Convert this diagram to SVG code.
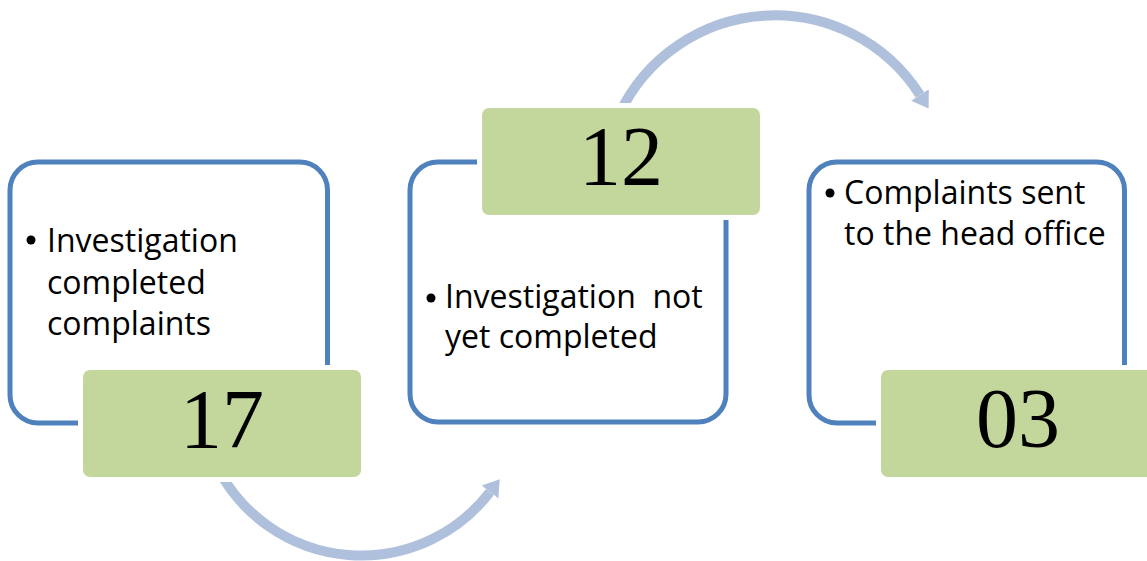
<svg xmlns="http://www.w3.org/2000/svg" width="1147" height="561" viewBox="0 0 1147 561">
<style>
.frame{fill:#ffffff;stroke:#4f81bd;stroke-width:5}
.tag{fill:#c3d69b;stroke:#ffffff;stroke-width:10;paint-order:stroke}
.lbl{font-family:"Open Sans","Liberation Sans",sans-serif;font-size:32px;fill:#000000}
.num{font-family:"Liberation Serif","Times New Roman",serif;font-size:84px;fill:#000000;text-anchor:middle}
.arc{fill:none;stroke:#afc0dd;stroke-width:10}
.dot{fill:#000000}
</style>
<defs>
<marker id="head" markerUnits="userSpaceOnUse" markerWidth="20" markerHeight="26" viewBox="0 -13 20 26" refX="0" refY="0" orient="auto">
<path d="M0,-10.5 L16,0 L0,10.5 Z" fill="#afc0dd"/>
</marker>
</defs>
<rect width="1147" height="561" fill="#ffffff"/>
<g id="connectors">
<path class="arc" d="M 218.6,470 A 162 162 0 0 0 490,492" marker-end="url(#head)"/>
<path class="arc" d="M 618.8,115 A 172 172 0 0 1 920,95" marker-end="url(#head)"/>
</g>
<g id="node1">
<rect class="frame" x="10" y="162" width="317.5" height="261" rx="28"/>
<circle class="dot" cx="31" cy="240" r="4.5"/>
<text class="lbl" x="47" y="252">Investigation</text>
<text class="lbl" x="47" y="293.5">completed</text>
<text class="lbl" x="47" y="335">complaints</text>
<rect class="tag" x="83" y="370" width="278" height="107" rx="7"/>
<text class="num" x="222" y="448">17</text>
</g>
<g id="node2">
<rect class="frame" x="410" y="162" width="316" height="260" rx="28"/>
<circle class="dot" cx="431" cy="298" r="4.5"/>
<text class="lbl" x="445" y="308" xml:space="preserve">Investigation  not</text>
<text class="lbl" x="445" y="348">yet completed</text>
<rect class="tag" x="482" y="108" width="278" height="107" rx="7"/>
<text class="num" x="621" y="185">12</text>
</g>
<g id="node3">
<rect class="frame" x="809" y="162" width="315.5" height="261" rx="28"/>
<circle class="dot" cx="830" cy="193" r="4.5"/>
<text class="lbl" x="844" y="204">Complaints sent</text>
<text class="lbl" x="844" y="245">to the head office</text>
<rect class="tag" x="881" y="370" width="278" height="107" rx="7"/>
<text class="num" x="1018" y="447">03</text>
</g>
</svg>
